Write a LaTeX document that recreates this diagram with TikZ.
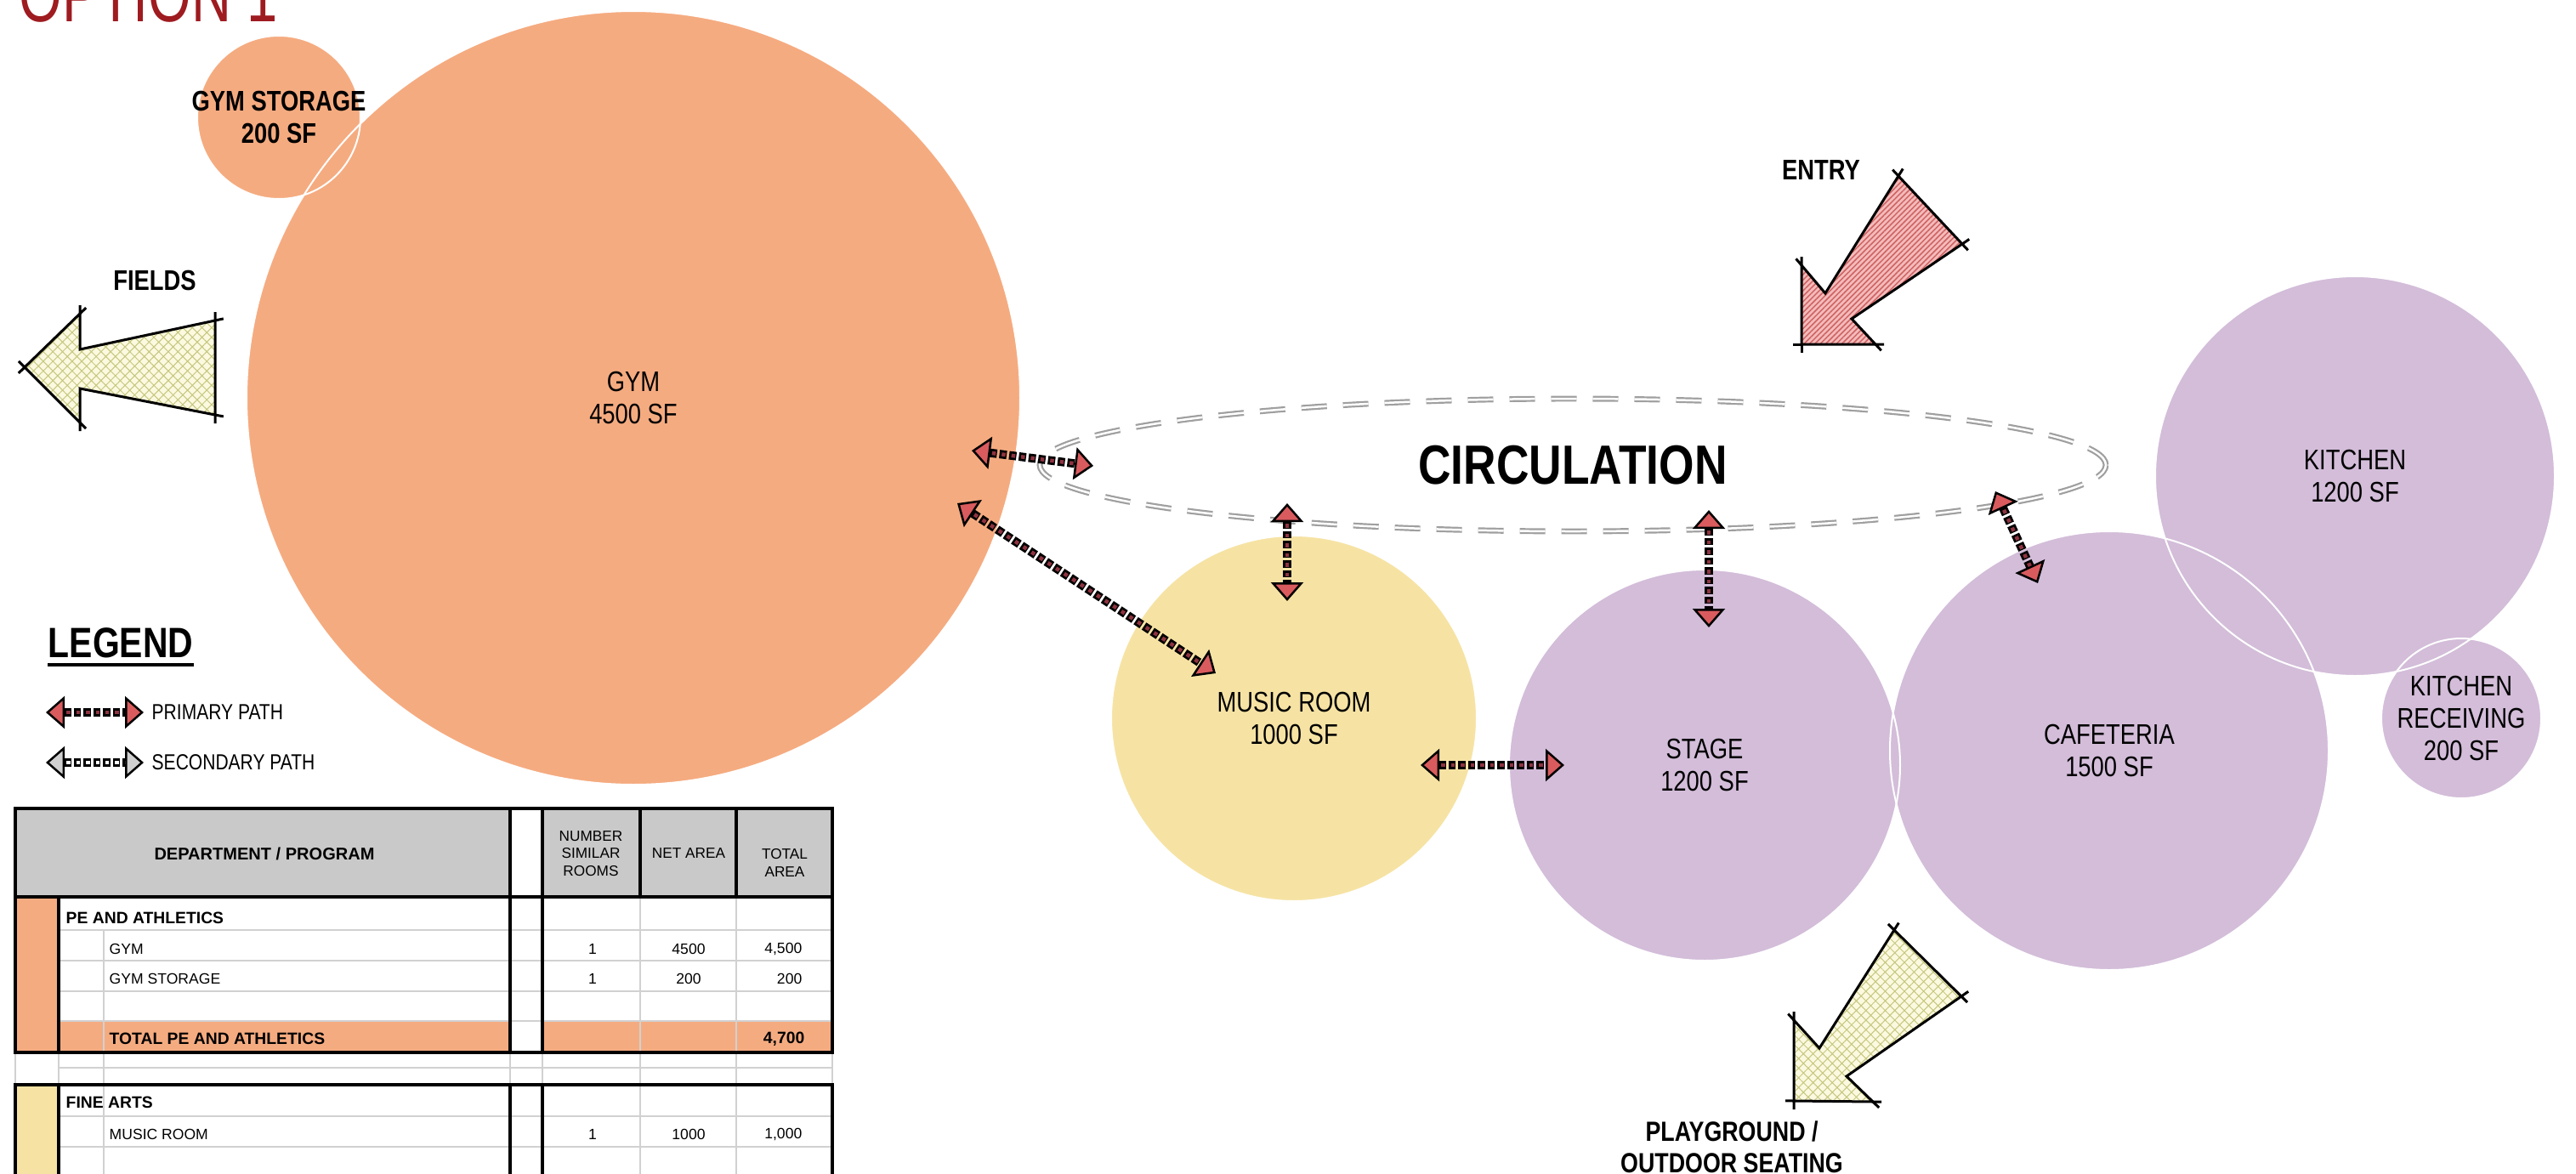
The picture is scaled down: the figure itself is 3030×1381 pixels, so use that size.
\documentclass[tikz,border=0pt]{standalone}
\usepackage{fontspec}
\setmainfont{Liberation Sans}
\newfontfamily\narrowsf[FakeStretch=0.82]{Liberation Sans}
\newfontfamily\optionfont[FakeStretch=0.72]{Liberation Sans}
\usetikzlibrary{arrows.meta,patterns.meta,calc,positioning}
\definecolor{gymorange}{HTML}{F5AB80}
\definecolor{artyellow}{HTML}{F6E3A4}
\definecolor{foodpurple}{HTML}{D3BDD9}
\definecolor{headred}{HTML}{D95B5E}
\definecolor{squarered}{HTML}{8E3440}
\definecolor{headgrey}{HTML}{D0D0D0}
\definecolor{titlered}{HTML}{9E1B20}
\definecolor{crossbg}{HTML}{FBF9E0}
\definecolor{crossline}{HTML}{C5C77E}
\definecolor{entrybg}{HTML}{F4BBBB}
\definecolor{entryline}{HTML}{CF6262}
\definecolor{tablegrey}{HTML}{C9C9C9}
\tikzset{
  link/.style 2 args={draw=black, line width=1mm, dash pattern=on 0.85mm off 0.3mm,
    arrows={Triangle[width=3.8mm,length=2.2mm,line width=0.25mm,fill=#1]-Triangle[width=3.8mm,length=2.2mm,line width=0.25mm,fill=#1]},
    postaction={-, draw=#2, line width=0.45mm, dash pattern=on 0.45mm off 0.7mm, dash phase=-0.2mm, shorten <=2.2mm, shorten >=2.2mm}},
  primary/.style={link={headred}{squarered}},
  secondary/.style={link={headgrey}{white}},
}
\begin{document}
\begin{tikzpicture}[x=0.1mm, y=-0.1mm,
    room/.style={circle, fill=#1, inner sep=0pt},
    roomtxt/.style={align=center, inner sep=0pt, font=\narrowsf\fontsize{9.5}{10.8}\selectfont},
    boldtxt/.style={roomtxt, font=\narrowsf\bfseries\fontsize{9.5}{10.8}\selectfont},
    tag/.style={align=center, inner sep=0pt, font=\narrowsf\bfseries\fontsize{9.5}{10.5}\selectfont},
    legtxt/.style={inner sep=0pt, font=\narrowsf\fontsize{7.3}{8}\selectfont},
    rim/.style={draw=white, line width=0.2mm},
    outline/.style={draw=black, line width=0.3mm, line join=miter},
    crossfill/.style={preaction={fill=crossbg}, preaction={pattern={Hatch[angle=45,distance=0.8mm,line width=0.1mm]}, pattern color=crossline}},
    entryfill/.style={preaction={fill=entrybg}, preaction={pattern={Lines[angle=45,distance=0.45mm,line width=0.15mm]}, pattern color=entryline}},
    circline/.style={draw=gray!75, line width=0.22mm, double=white, double distance=0.25mm, dash pattern=on 3mm off 1.9mm},
    tline/.style={line width=0.35mm},
    grid/.style={draw=black!18, line width=0.15mm},
    cell/.style={inner sep=0pt, font=\fontsize{5}{6}\selectfont},
    cellhead/.style={inner sep=0pt, font=\bfseries\fontsize{5.5}{6.5}\selectfont}]

  \useasboundingbox (0,0) rectangle (3030,1381);
  \clip (0,0) rectangle (3030,1381);

  \node[anchor=base west, inner sep=0pt, text=titlered, font=\optionfont\fontsize{25.7}{30}\selectfont] (title) at (22,25) {OPTION 1};

  \node[room=gymorange, minimum size=91mm] (gym) at (745,468) {};
  \node[room=gymorange, minimum size=19.2mm] (store) at (328,138) {};
  \node[room=artyellow, minimum size=43mm] (music) at (1522,845) {};
  \node[room=foodpurple, minimum size=46mm] (stage) at (2005,900) {};
  \node[room=foodpurple, minimum size=51.6mm] (cafe) at (2481,883) {};
  \node[room=foodpurple, minimum size=47mm] (kitchen) at (2770,560) {};
  \node[room=foodpurple, minimum size=18.8mm] (recv) at (2895,845) {};
  \foreach \n/\r in {gym/45.5, store/9.6, music/21.5, stage/23, cafe/25.8, kitchen/23.5, recv/9.4}
    \draw[rim] (\n.center) circle[radius=\r mm];

  \node[roomtxt] (gymtxt) at (gym) {GYM\\4500 SF};
  \node[boldtxt] (storetxt) at (store) {GYM STORAGE\\200 SF};
  \node[roomtxt] (musictxt) at (music) {MUSIC ROOM\\1000 SF};
  \node[roomtxt] (stagetxt) at (stage) {STAGE\\1200 SF};
  \node[roomtxt] (cafetxt) at (cafe) {CAFETERIA\\1500 SF};
  \node[roomtxt] (kitchentxt) at (kitchen) {KITCHEN\\1200 SF};
  \node[roomtxt] (recvtxt) at (recv) {KITCHEN\\RECEIVING\\200 SF};

  \node[inner sep=0pt, font=\narrowsf\bfseries\fontsize{18.5}{20}\selectfont] (circ) at (1850,547) {CIRCULATION};
  \draw[circline] (circ.center) ellipse[x radius=62.7mm, y radius=7.8mm];

  \coordinate (gymE) at (1143,530);   \coordinate (circW) at (1286,548);
  \coordinate (gymSE) at (1126,592);  \coordinate (musicNW) at (1430,792);
  \coordinate (circM) at (1514,592);  \coordinate (musicN) at (1514,707);
  \coordinate (musicE) at (1671,900); \coordinate (stageW) at (1840,900);
  \coordinate (circS) at (2010,600);  \coordinate (stageN) at (2010,738);
  \coordinate (circE) at (2347,578);  \coordinate (cafeN) at (2397,686);
  \draw[primary] (gymE) -- (circW);
  \draw[primary] (gymSE) -- (musicNW);
  \draw[primary] (circM) -- (musicN);
  \draw[primary] (musicE) -- (stageW);
  \draw[primary] (circS) -- (stageN);
  \draw[primary] (circE) -- (cafeN);

  \path (29,432) coordinate (f1) (94,369) coordinate (f2) (94,411) coordinate (f3) (253,377) coordinate (f4)
        (253,488) coordinate (f5) (94,457) coordinate (f6) (94,497) coordinate (f7);
  \draw[outline, crossfill] (f1) -- (f2) -- (f3) -- (f4) -- (f5) -- (f6) -- (f7) -- cycle;
  \foreach \v/\p/\n in {f1/f7/f2, f2/f1/f3, f4/f3/f5, f5/f4/f6, f7/f6/f1}
    \draw[outline] ($(\v)!-1mm!(\p)$) -- (\v) -- ($(\v)!-1mm!(\n)$);
  \node[tag] (fields) at (182,330) {FIELDS};

  \path (2119,405) coordinate (e1) (2119,312) coordinate (e2) (2147,345) coordinate (e3) (2233,207) coordinate (e4)
        (2308,287) coordinate (e5) (2178,375) coordinate (e6) (2206,405) coordinate (e7);
  \draw[outline, entryfill] (e1) -- (e2) -- (e3) -- (e4) -- (e5) -- (e6) -- (e7) -- cycle;
  \foreach \v/\p/\n in {e1/e7/e2, e2/e1/e3, e4/e3/e5, e5/e4/e6, e7/e6/e1}
    \draw[outline] ($(\v)!-1mm!(\p)$) -- (\v) -- ($(\v)!-1mm!(\n)$);
  \node[tag] (entry) at (2142,200) {ENTRY};

  \path (2110,1295) coordinate (p1) (2110,1200) coordinate (p2) (2140,1233) coordinate (p3) (2228,1094) coordinate (p4)
        (2307,1172) coordinate (p5) (2172,1266) coordinate (p6) (2203,1296) coordinate (p7);
  \draw[outline, crossfill] (p1) -- (p2) -- (p3) -- (p4) -- (p5) -- (p6) -- (p7) -- cycle;
  \foreach \v/\p/\n in {p1/p7/p2, p2/p1/p3, p4/p3/p5, p5/p4/p6, p7/p6/p1}
    \draw[outline] ($(\v)!-1mm!(\p)$) -- (\v) -- ($(\v)!-1mm!(\n)$);
  \node[tag, font=\narrowsf\bfseries\fontsize{9.3}{10.5}\selectfont] (play) at (2037,1349) {PLAYGROUND /\\OUTDOOR SEATING};

  \node[anchor=base west, inner sep=0pt, font=\narrowsf\bfseries\fontsize{14.2}{16}\selectfont] (legend) at (56,773) {LEGEND};
  \draw[line width=0.4mm] ([yshift=-0.9mm]legend.base west) -- ([yshift=-0.9mm]legend.base east);
  \coordinate (pa) at (54,838); \coordinate (pb) at (169,838);
  \coordinate (sa) at (54,897); \coordinate (sb) at (169,897);
  \draw[primary] (pa) -- (pb);
  \draw[secondary] (sa) -- (sb);
  \node[legtxt, right=0.9mm of pb, anchor=west] (ptxt) {PRIMARY PATH};
  \node[legtxt, right=0.9mm of sb, anchor=west] (stxt) {SECONDARY PATH};

  \fill[tablegrey] (18,951) rectangle (600,1055) (638,951) rectangle (979,1055);
  \fill[gymorange] (18,1055) rectangle (69,1238) (69,1201) rectangle (600,1238) (638,1201) rectangle (979,1238);
  \fill[artyellow] (18,1276) rectangle (69,1400);
  \foreach \y in {1094,1130,1166,1201,1256,1313,1349}
    \draw[grid] (69,\y) -- (979,\y);
  \foreach \x in {753,866}
    \draw[grid] (\x,1055) -- (\x,1400);
  \draw[grid] (122,1094) -- (122,1400) (18,1238) -- (18,1276) (69,1238) -- (69,1276)
    (600,1238) -- (600,1276) (638,1238) -- (638,1276) (979,1238) -- (979,1276);
  \draw[tline] (18,951) rectangle (979,1238) (18,1055) -- (979,1055) (69,1055) -- (69,1238)
    (600,951) -- (600,1238) (638,951) -- (638,1238) (753,951) -- (753,1055) (866,951) -- (866,1055);
  \draw[tline] (18,1400) -- (18,1276) -- (979,1276) -- (979,1400) (69,1276) -- (69,1400)
    (600,1276) -- (600,1400) (638,1276) -- (638,1400);

  \node[cellhead, font=\bfseries\fontsize{5.7}{6.8}\selectfont] (dept) at (311,1004) {DEPARTMENT / PROGRAM};
  \node[cell, align=center, font=\fontsize{4.9}{5.9}\selectfont] (rooms) at (695,1004) {NUMBER\\SIMILAR\\ROOMS};
  \node[cell, font=\fontsize{4.9}{5.9}\selectfont] (netarea) at (810,1004) {NET AREA};
  \node[cell, align=center, font=\fontsize{4.9}{5.9}\selectfont] (totarea) at (923,1015) {TOTAL\\AREA};
  \node[cellhead, anchor=west] (pe) at (77,1080) {PE AND ATHLETICS};
  \node[cellhead, anchor=west] (pesum) at (128,1222) {TOTAL PE AND ATHLETICS};
  \node[cellhead, anchor=east] (pesumval) at (947,1222) {4,700};
  \node[cellhead, anchor=west] (fine) at (77,1297) {FINE ARTS};
  \foreach \y/\item/\net/\tot in {1116/GYM/4500/{4,500}, 1151/GYM STORAGE/200/200, 1334/MUSIC ROOM/1000/{1,000}} {
    \node[cell, anchor=west] (item\y) at (128,\y) {\item};
    \node[cell] (count\y) at (697,\y) {1};
    \node[cell] (net\y) at (810,\y) {\net};
    \node[cell, anchor=east] (tot\y) at (944,\y) {\tot};
  }
\end{tikzpicture}
\end{document}
